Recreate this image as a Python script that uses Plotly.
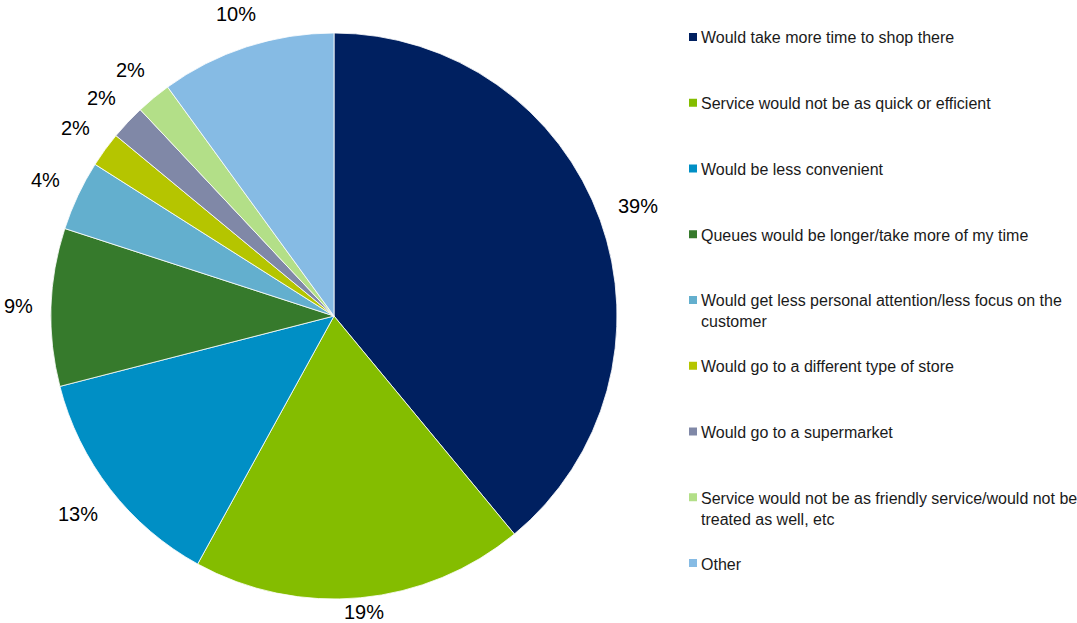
import math
import plotly.graph_objects as go

# Reasons given for not shopping at the store
categories = [
    "Would take more time to shop there",
    "Service would not be as quick or efficient",
    "Would be less convenient",
    "Queues would be longer/take more of my time",
    "Would get less personal attention/less focus on the<br>customer",
    "Would go to a different type of store",
    "Would go to a supermarket",
    "Service would not be as friendly service/would not be<br>treated as well, etc",
    "Other",
]
shares = [39, 19, 13, 9, 4, 2, 2, 2, 10]
colors = [
    "#002060", "#84BD00", "#008FC5", "#367A2C", "#63AFCE",
    "#B5C500", "#8088A7", "#B3DF88", "#86BBE4",
]

W, H = 1077, 623
cx, cy, r = 334, 316, 283
FONT = "Liberation Sans, Arial"

fig = go.Figure()
fig.add_trace(go.Pie(
    labels=categories,
    values=shares,
    textinfo="none",
    sort=False,
    direction="clockwise",
    rotation=0,
    marker=dict(colors=colors, line=dict(color="#FFFFFF", width=0.8)),
    showlegend=False,
    hoverinfo="label+percent",
    domain=dict(x=[(cx - r) / W, (cx + r) / W], y=[1 - (cy + r) / H, 1 - (cy - r) / H]),
))

annotations = []

# Percentage labels just outside each slice, along its bisector
total = sum(shares)
cum = 0.0
label_size = 20
gap = 18
for v in shares:
    mid = (cum + v / 2) / total * 2 * math.pi
    cum += v
    ux, uy = math.sin(mid), -math.cos(mid)
    txt = f"{v}%"
    hw = 0.5 * label_size * (0.556 * (len(txt) - 1) + 0.889)
    hh = 0.55 * label_size
    d = r + gap + hw * abs(ux) + hh * abs(uy)
    lx = cx + d * ux
    ly = min(cy + d * uy, H - hh)
    annotations.append(dict(
        x=lx / W, y=1 - ly / H, xref="paper", yref="paper",
        text=txt, showarrow=False, xanchor="center", yanchor="middle",
        font=dict(family=FONT, size=label_size, color="#000000"),
    ))

# Legend drawn as squares with labels, evenly spaced down the right side
leg_x = 693
leg_y0 = 37
leg_step = 65.75
shapes = []
for i, (name, col) in enumerate(zip(categories, colors)):
    y = leg_y0 + i * leg_step
    shapes.append(dict(
        type="rect", xref="paper", yref="paper",
        x0=(leg_x - 4) / W, x1=(leg_x + 4) / W,
        y0=1 - (y + 4) / H, y1=1 - (y - 4) / H,
        fillcolor=col, line=dict(width=0),
    ))
    annotations.append(dict(
        x=(leg_x + 6) / W, y=1 - (y - 9.5) / H, xref="paper", yref="paper",
        text=name, showarrow=False, xanchor="left", yanchor="top", align="left",
        font=dict(family=FONT, size=16, color="#1a1a1a"),
    ))

fig.update_layout(
    width=W, height=H,
    margin=dict(l=0, r=0, t=0, b=0),
    paper_bgcolor="white",
    plot_bgcolor="white",
    shapes=shapes,
    annotations=annotations,
)

fig.write_html("out.html")
